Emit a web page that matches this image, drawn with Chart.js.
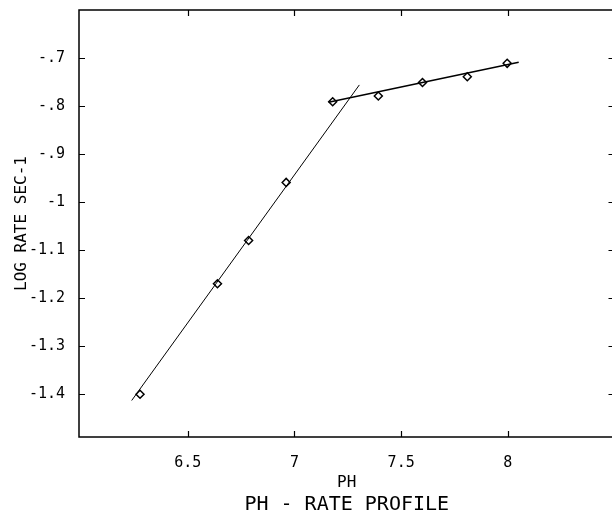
<!DOCTYPE html>
<html><head><meta charset="utf-8">
<script src="https://cdn.jsdelivr.net/npm/chart.js@4/dist/chart.umd.min.js"></script>
<style>html,body{margin:0;padding:0;overflow:hidden;background:#fff}#wrap{width:620px;height:520px}</style>
</head><body><div id="wrap"><canvas id="c" width="620" height="520"></canvas></div>
<script>
const phPoints   = [6.276, 6.639, 6.785, 6.961, 7.179, 7.393, 7.600, 7.810, 7.997];
const logRate    = [-1.400, -1.170, -1.080, -0.959, -0.791, -0.779, -0.751, -0.739, -0.711];
const acidFitPH   = [6.237, 7.304];
const acidFitRate = [-1.413, -0.756];
const baseFitPH   = [7.160, 8.051];
const baseFitRate = [-0.792, -0.709];
const xTickValues = [6.5, 7, 7.5, 8];
const xTickLabels = ['6.5', '7', '7.5', '8'];
const yTickValues = [-0.7, -0.8, -0.9, -1.0, -1.1, -1.2, -1.3, -1.4];
const yTickLabels = ['-.7', '-.8', '-.9', '-1', '-1.1', '-1.2', '-1.3', '-1.4'];
const xTitle = 'PH';
const yTitle = 'LOG RATE SEC-1';
const chartTitle = 'PH - RATE PROFILE';

const FONT = "'DejaVu Sans Mono', 'Liberation Mono', monospace";
const toXY = (xs, ys) => xs.map((x, i) => ({x: x, y: ys[i]}));

const frameTicks = {
  id: 'frameTicks',
  afterDatasetsDraw(chart) {
    const {ctx, chartArea: a, scales: {x, y}} = chart;
    ctx.save();
    ctx.strokeStyle = '#000';
    ctx.lineWidth = 1.5;
    ctx.strokeRect(a.left, a.top, a.right - a.left, a.bottom - a.top);
    ctx.lineWidth = 1.2;
    const L = 6;
    ctx.beginPath();
    xTickValues.forEach(v => {
      const px = Math.round(x.getPixelForValue(v)) + 0.5;
      ctx.moveTo(px, a.bottom); ctx.lineTo(px, a.bottom - L);
      ctx.moveTo(px, a.top); ctx.lineTo(px, a.top + L);
    });
    yTickValues.forEach(v => {
      const py = Math.round(y.getPixelForValue(v)) + 0.5;
      ctx.moveTo(a.left, py); ctx.lineTo(a.left + L, py);
      ctx.moveTo(a.right, py); ctx.lineTo(a.right - L, py);
    });
    ctx.stroke();
    ctx.restore();
  }
};

new Chart(document.getElementById('c'), {
  type: 'scatter',
  data: {
    datasets: [
      {data: toXY(acidFitPH, acidFitRate), showLine: true, borderColor: '#000', borderWidth: 1, pointRadius: 0, fill: false},
      {data: toXY(baseFitPH, baseFitRate), showLine: true, borderColor: '#000', borderWidth: 1.5, pointRadius: 0, fill: false},
      {data: toXY(phPoints, logRate), showLine: false, pointStyle: 'rectRot', pointRadius: 4, pointBorderWidth: 1.5,
       pointBorderColor: '#000', pointBackgroundColor: '#fff'}
    ]
  },
  options: {
    responsive: false,
    animation: false,
    layout: {padding: {left: 0, top: 10, right: 4, bottom: 0}},
    plugins: {
      legend: {display: false},
      tooltip: {enabled: false},
      title: {display: false}
    },
    scales: {
      x: {
        type: 'linear', min: 5.99, max: 8.5, position: 'bottom', weight: 0,
        afterBuildTicks: s => { s.ticks = xTickValues.map(v => ({value: v})); },
        afterFit: s => { s.height = 55; s.paddingLeft = 0; s.paddingRight = 0; },
        grid: {display: false, drawTicks: false},
        border: {display: false},
        ticks: {color: '#000', padding: 17, font: {family: FONT, size: 15},
                callback: (v) => xTickLabels[xTickValues.indexOf(v)]},
        title: {display: true, text: xTitle, color: '#000', font: {family: FONT, size: 16}, padding: {top: 0, bottom: 0}}
      },
      x2: {
        type: 'linear', min: 5.99, max: 8.5, position: 'bottom', weight: 1,
        afterFit: s => { s.height = 28; s.paddingLeft = 0; s.paddingRight = 0; },
        grid: {display: false, drawTicks: false},
        border: {display: false},
        ticks: {display: false},
        title: {display: true, text: chartTitle, color: '#000', font: {family: FONT, size: 20}, padding: {top: 0, bottom: 3}}
      },
      y: {
        type: 'linear', min: -1.489, max: -0.6,
        afterBuildTicks: s => { s.ticks = yTickValues.map(v => ({value: v})); },
        afterFit: s => { s.width = 79; s.paddingTop = 0; s.paddingBottom = 0; },
        grid: {display: false, drawTicks: false},
        border: {display: false},
        ticks: {color: '#000', padding: 14, font: {family: FONT, size: 15},
                callback: (v) => yTickLabels[yTickValues.findIndex(t => Math.abs(t - v) < 1e-9)]},
        title: {display: true, text: yTitle, color: '#000', font: {family: FONT, size: 16}, padding: {top: 12, bottom: 0}}
      }
    }
  },
  plugins: [frameTicks]
});
</script></body></html>
